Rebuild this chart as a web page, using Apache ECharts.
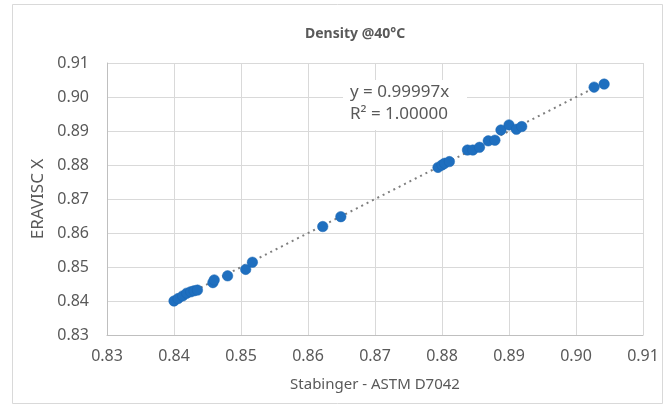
<!DOCTYPE html>
<html>
<head>
<meta charset="utf-8">
<script src="https://cdn.jsdelivr.net/npm/echarts@6/dist/echarts.min.js"></script>
<style>html,body{margin:0;padding:0;background:#fff}#c{width:668px;height:406px}</style>
</head>
<body>
<div id="c"></div>
<script>
var xs = [0.8400, 0.8406, 0.8413, 0.8419, 0.8425, 0.8430, 0.8435, 0.8458, 0.8460, 0.8480, 0.8507, 0.8517, 0.8622, 0.8649, 0.8794, 0.8800, 0.8804, 0.8811, 0.8838, 0.8846, 0.8856, 0.8869, 0.8879, 0.8888, 0.8900, 0.8911, 0.8919, 0.9027, 0.9042];
var ys = [0.8400, 0.8407, 0.8415, 0.8423, 0.8427, 0.8430, 0.8432, 0.8454, 0.8462, 0.8474, 0.8493, 0.8514, 0.8619, 0.8648, 0.8793, 0.8800, 0.8805, 0.8810, 0.8844, 0.8844, 0.8852, 0.8871, 0.8873, 0.8903, 0.8918, 0.8905, 0.8913, 0.9029, 0.9038];
var trendSlope = 0.99997;
var trendRange = [0.8400, 0.9042];
var equationLines = ['y = 0.99997x', 'R\u00b2 = 1.00000'];
var titleText = 'Density @40\u00b0C';
var xName = 'Stabinger - ASTM D7042';
var yName = 'ERAVISC X';

var pts = xs.map(function (x, i) { return [x, ys[i]]; });
var trend = trendRange.map(function (x) { return [x, x * trendSlope]; });
var txt = '#595959';
var font = 'Noto Sans';

var chart = echarts.init(document.getElementById('c'), null, {renderer: 'canvas'});
chart.setOption({
  animation: false,
  backgroundColor: '#fff',
  textStyle: {fontFamily: font},
  title: {
    text: titleText, left: 300, top: 22,
    textStyle: {fontSize: 14, fontWeight: 'bold', color: txt, fontFamily: font}
  },
  grid: {left: 107, right: 25, top: 63, bottom: 71},
  xAxis: {
    type: 'value', min: 0.83, max: 0.91, interval: 0.01,
    name: xName, nameLocation: 'middle', nameGap: 42,
    nameTextStyle: {fontSize: 15, color: txt, fontFamily: font},
    axisLine: {show: true, lineStyle: {color: '#bfbfbf'}},
    axisTick: {show: false},
    axisLabel: {color: txt, fontSize: 16, margin: 13, fontFamily: font, formatter: function (v) { return v.toFixed(2); }},
    splitLine: {show: true, lineStyle: {color: '#d9d9d9'}}
  },
  yAxis: {
    type: 'value', min: 0.83, max: 0.91, interval: 0.01,
    name: yName, nameLocation: 'middle', nameGap: 57,
    nameTextStyle: {fontSize: 17, color: txt, fontFamily: font},
    axisLine: {show: true, lineStyle: {color: '#bfbfbf'}},
    axisTick: {show: false},
    axisLabel: {color: txt, fontSize: 16, margin: 18, fontFamily: font, formatter: function (v) { return v.toFixed(2); }},
    splitLine: {show: true, lineStyle: {color: '#d9d9d9'}}
  },
  series: [
    {
      type: 'line', data: trend, symbol: 'none', silent: true, z: 1,
      lineStyle: {color: '#7f7f7f', width: 2, type: [2, 4]}
    },
    {
      type: 'scatter', data: pts, symbol: 'circle', symbolSize: 10.5, z: 3,
      itemStyle: {color: '#1f6fbf', opacity: 1, borderColor: '#1a66b3', borderWidth: 0.5}
    }
  ],
  graphic: [
    {
      type: 'rect', left: 10, top: 2, z: -10, silent: true,
      shape: {width: 650, height: 399},
      style: {fill: 'none', stroke: '#d9d9d9', lineWidth: 1}
    },
    {type: 'rect', left: 343, top: 80, z: 50, shape: {width: 124, height: 50}, style: {fill: '#fff'}},
    {type: 'text', left: 350, top: 84, z: 51, style: {text: equationLines[0], font: '17px "Noto Sans"', fill: txt}},
    {type: 'text', left: 350, top: 106, z: 51, style: {text: equationLines[1], font: '17px "Noto Sans"', fill: txt}}
  ]
});
</script>
</body>
</html>
